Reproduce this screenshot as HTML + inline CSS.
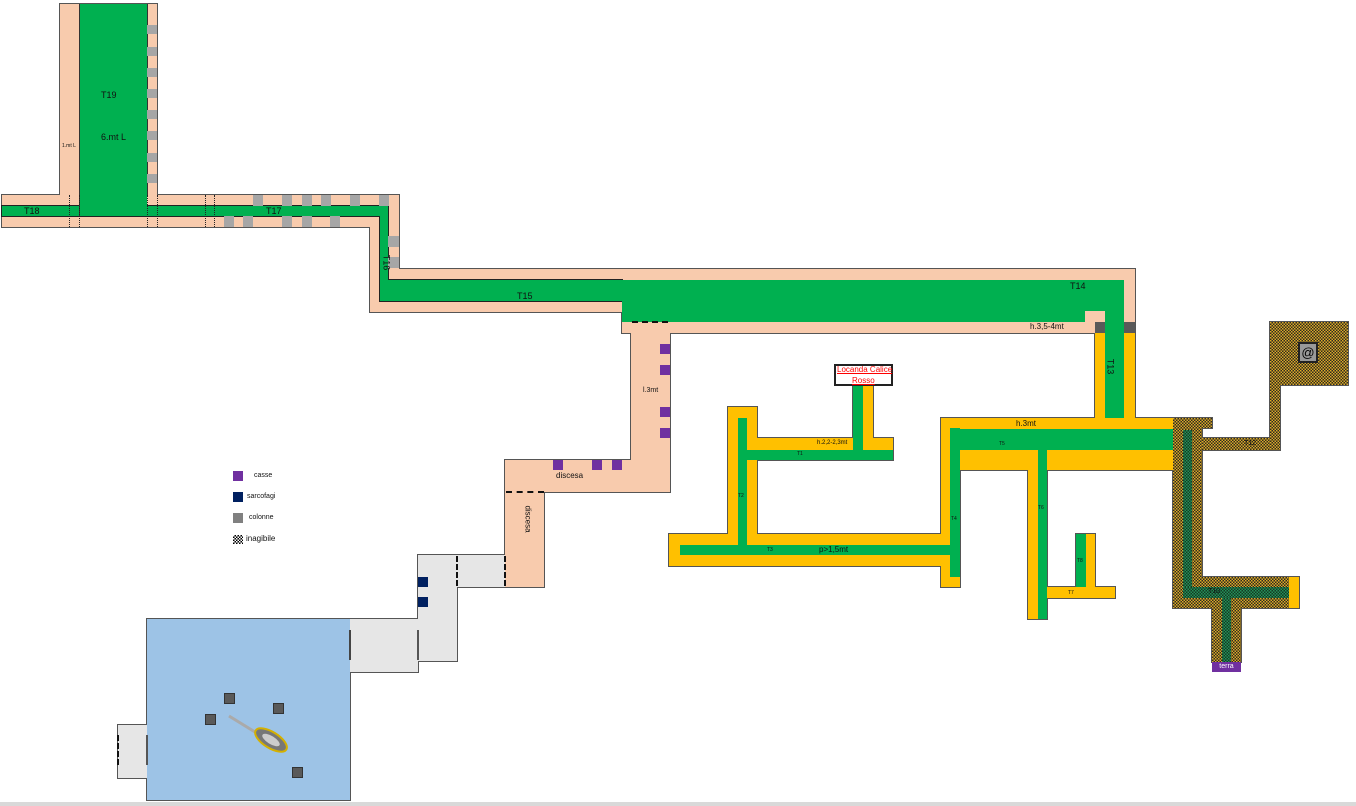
<!DOCTYPE html>
<html><head><meta charset="utf-8"><style>
body{margin:0;width:1356px;height:806px;background:#fff;position:relative;overflow:hidden;font-family:"Liberation Sans",sans-serif;}
.r{position:absolute;box-sizing:border-box;}
.t{position:absolute;font-size:9px;color:#111;white-space:nowrap;line-height:1;}
.ck{background-color:#c8961e;background-image:repeating-conic-gradient(#2e2a1e 0 25%,#dcaa28 0 50%);background-size:3px 3px;}
.gk{background-color:#1e6a3c;background-image:repeating-conic-gradient(#143a22 0 25%,#24905a 0 50%);background-size:3px 3px;}
</style></head><body>
<div id="m"></div>
<div class="r" style="left:0;top:802px;width:1356px;height:4px;background:#d9d9d9"></div>
<!-- labels -->
<div class="t" style="left:101px;top:91px;font-size:9px">T19</div>
<div class="t" style="left:101px;top:133px;font-size:9px">6.mt L</div>
<div class="t" style="left:62px;top:144px;font-size:5px">1.mt L</div>
<div class="t" style="left:24px;top:207px;">T18</div>
<div class="t" style="left:266px;top:207px;">T17</div>
<div class="t" style="left:378px;top:258px;transform:rotate(90deg);">T16</div>
<div class="t" style="left:517px;top:292px;">T15</div>
<div class="t" style="left:1070px;top:282px;">T14</div>
<div class="t" style="left:1030px;top:323px;font-size:8px">h.3,5-4mt</div>
<div class="t" style="left:1102px;top:362px;transform:rotate(90deg);">T13</div>
<div class="t" style="left:643px;top:387px;font-size:7px">l.3mt</div>
<div class="t" style="left:556px;top:472px;font-size:8px">discesa</div>
<div class="t" style="left:514px;top:515px;font-size:8px;transform:rotate(90deg);">discesa</div>
<div class="r" style="left:834px;top:364px;width:59px;height:22px;background:#fff;border:2px solid #222;"></div>
<div class="t" style="left:837px;top:366px;font-size:8px;color:#f00;text-decoration:underline">Locanda Calice</div>
<div class="t" style="left:852px;top:377px;font-size:8px;color:#f00;text-decoration:underline">Rosso</div>
<div class="t" style="left:817px;top:440px;font-size:6px">h.2,2-2,3mt</div>
<div class="t" style="left:797px;top:452px;font-size:5px">T1</div>
<div class="t" style="left:738px;top:494px;font-size:5px">T2</div>
<div class="t" style="left:767px;top:548px;font-size:5px">T3</div>
<div class="t" style="left:819px;top:546px;font-size:8px">p&gt;1,5mt</div>
<div class="t" style="left:951px;top:517px;font-size:5px">T4</div>
<div class="t" style="left:999px;top:442px;font-size:5px">T5</div>
<div class="t" style="left:1016px;top:420px;font-size:8px">h.3mt</div>
<div class="t" style="left:1038px;top:506px;font-size:5px">T6</div>
<div class="t" style="left:1068px;top:591px;font-size:5px">T7</div>
<div class="t" style="left:1077px;top:559px;font-size:5px">T8</div>
<div class="t" style="left:1244px;top:440px;font-size:7px">T12</div>
<div class="t" style="left:1208px;top:588px;font-size:7px">T10</div>
<div class="r" style="left:1298px;top:342px;width:20px;height:21px;background:#999;border:2px solid #222;font-size:13px;text-align:center;line-height:17px">@</div>
<div class="r" style="left:1212px;top:662px;width:29px;height:10px;background:#7030a0;color:#fff;font-size:7px;text-align:center;line-height:10px">terra</div>
<!-- legend -->
<div class="r" style="left:233px;top:471px;width:10px;height:10px;background:#7030a0"></div>
<div class="t" style="left:254px;top:472px;font-size:7px">casse</div>
<div class="r" style="left:233px;top:492px;width:10px;height:10px;background:#002060"></div>
<div class="t" style="left:247px;top:493px;font-size:7px">sarcofagi</div>
<div class="r" style="left:233px;top:513px;width:10px;height:10px;background:#808080"></div>
<div class="t" style="left:249px;top:514px;font-size:7px">colonne</div>
<div class="r ck" style="left:233px;top:535px;width:10px;height:9px;background-image:repeating-conic-gradient(#000 0 25%,#fff 0 50%);"></div>
<div class="t" style="left:246px;top:535px;font-size:8px">inagibile</div>
<!-- ship -->
<svg class="r" style="left:225px;top:712px" width="70" height="50"><line x1="4" y1="4" x2="30" y2="20" stroke="#aaa" stroke-width="3"/><ellipse cx="46" cy="28" rx="18" ry="8" transform="rotate(32 46 28)" fill="#777" stroke="#d4b000" stroke-width="2"/><ellipse cx="46" cy="28" rx="10" ry="4" transform="rotate(32 46 28)" fill="#ccc"/></svg>
<script>
var m=document.getElementById('m'),h='';
function R(a,c,ol,cls){a.forEach(function(r){h+='<div class="r '+(cls||'')+'" style="left:'+(r[0]-(ol?1:0))+'px;top:'+(r[1]-(ol?1:0))+'px;width:'+(r[2]+(ol?2:0))+'px;height:'+(r[3]+(ol?2:0))+'px;'+(cls?'':'background:'+c)+'"></div>';});}
var peach=[[60,4,97,192],[2,195,397,32],[370,195,29,117],[370,269,252,43],[622,269,513,64],[631,322,39,170],[505,460,165,32],[505,460,39,127]];
var gray=[[418,555,87,32],[418,555,39,106],[350,619,68,53],[118,725,29,53]];
var blue=[[147,619,203,181]];
var yel=[[728,407,29,133],[728,438,165,22],[853,386,20,64],[669,534,291,32],[941,418,19,169],[941,418,232,52],[1095,322,40,108],[1028,450,19,169],[1047,587,68,11],[1076,534,19,64]];
var ck=[[1173,418,29,190],[1173,418,39,10],[1202,438,78,12],[1270,385,10,65],[1270,322,78,63],[1173,577,126,31],[1212,577,29,85]];
[[peach],[gray],[blue],[yel],[ck]].forEach(function(g){R(g[0],'#555',1);});
R(peach,'#f8cbad');R(gray,'#e6e6e6');R(blue,'#9dc3e6');R(yel,'#ffc000');R(ck,'',0,'ck');
R([[1289,577,10,31]],'#ffc000');
R([[380,206,8,95],[380,280,242,21],[2,206,386,10]],'#222',1);
var gr=[[79,4,68,212],[2,206,386,10],[380,206,8,95],[380,280,242,21],[622,280,463,42],[1085,280,39,31],[1105,280,19,138],[738,418,9,127],[738,450,155,10],[853,386,10,64],[680,545,280,10],[950,428,10,149],[950,429,223,21],[1038,450,9,169],[1076,534,10,53]];
R(gr,'#00b050');
R([[1183,430,9,168],[1183,587,106,11],[1222,598,9,64]],'',0,'gk');
R([[79,4,1,212],[147,4,1,192]],'#333');
var gb=[];[25,47,68,89,110,131,153,174].forEach(function(y){gb.push([147,y,10,9]);});
[253,282,302,321,350,379].forEach(function(x){gb.push([x,195,10,11]);});
[224,243,282,302,330].forEach(function(x){gb.push([x,216,10,11]);});
gb.push([388,236,11,11],[388,257,11,11]);
R(gb,'#a6a6a6');
R([[1095,322,10,11],[1124,322,11,11]],'#595959');
R([[1085,311,20,11]],'#f8cbad');
R([[660,344,10,10],[660,365,10,10],[660,407,10,10],[660,428,10,10],[553,460,10,10],[592,460,10,10],[612,460,10,10]],'#7030a0');
R([[418,577,10,10],[418,597,10,10]],'#002060');
R([[224,693,11,11],[205,714,11,11],[273,703,11,11],[292,767,11,11]],'#333');
R([[225,694,9,9],[206,715,9,9],[274,704,9,9],[293,768,9,9]],'#595959');
[69,79,147,157,205,214].forEach(function(x){h+='<div class="r" style="left:'+x+'px;top:195px;height:32px;border-left:1px dotted #222"></div>';});
h+='<div class="r" style="left:632px;top:321px;width:36px;border-top:2px dashed #111"></div>';
h+='<div class="r" style="left:506px;top:491px;width:38px;border-top:2px dashed #111"></div>';
h+='<div class="r" style="left:456px;top:556px;height:30px;border-left:2px dashed #111"></div>';
h+='<div class="r" style="left:504px;top:556px;height:30px;border-left:2px dashed #111"></div>';
h+='<div class="r" style="left:349px;top:630px;height:30px;border-left:2px solid #444"></div>';
h+='<div class="r" style="left:417px;top:630px;height:30px;border-left:2px solid #555"></div>';
h+='<div class="r" style="left:146px;top:735px;height:30px;border-left:2px solid #555"></div>';
h+='<div class="r" style="left:117px;top:735px;height:30px;border-left:2px dashed #111"></div>';
m.innerHTML=h;
</script>
</body></html>
